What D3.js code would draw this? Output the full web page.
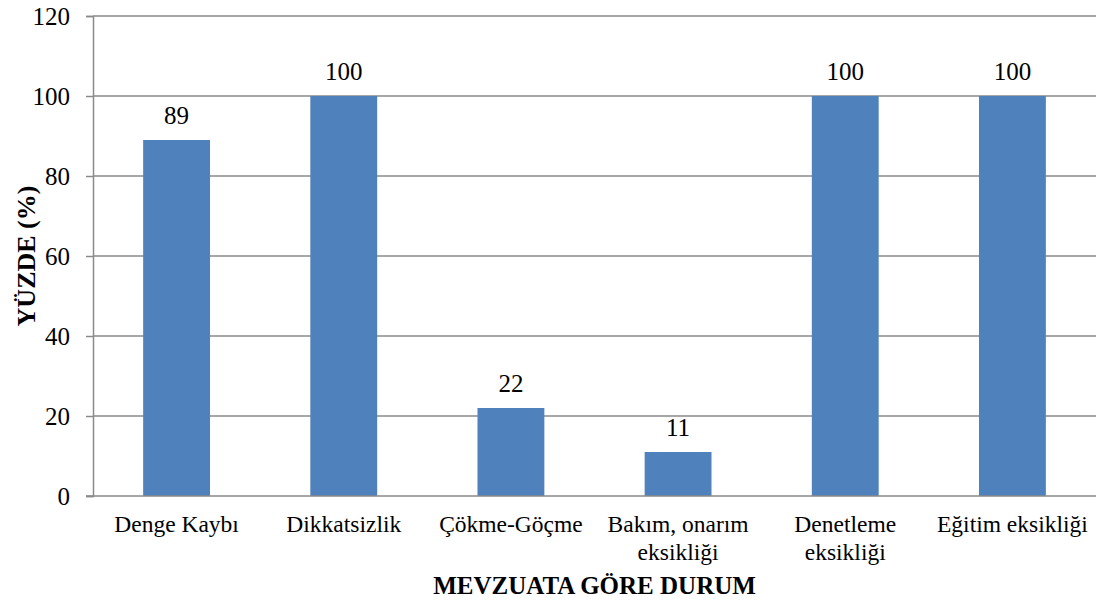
<!DOCTYPE html>
<html>
<head>
<meta charset="utf-8">
<script src="https://cdn.jsdelivr.net/npm/d3@7"></script>
</head>
<body style="margin:0">
<svg id="kaza-grafik" width="1100" height="603"></svg>
<script>
// Categories (line breaks marked with \n) and percentage values
const categories = ["Denge Kaybı", "Dikkatsizlik", "Çökme-Göçme", "Bakım, onarım\neksikliği", "Denetleme\neksikliği", "Eğitim eksikliği"];
const values = [89, 100, 22, 11, 100, 100];
const yTicks = [0, 20, 40, 60, 80, 100, 120];
const xTitle = "MEVZUATA GÖRE DURUM";
const yTitle = "YÜZDE (%)";

const FONT = "Liberation Serif";
const svg = d3.select("#kaza-grafik");
const plotLeft = 93, plotRight = 1096, plotTop = 16, plotBottom = 496;

const x = d3.scaleBand()
  .domain(categories)
  .range([plotLeft, plotRight])
  .paddingInner(0.6)
  .paddingOuter(0.3);

const y = d3.scaleLinear().domain([0, 120]).range([plotBottom, plotTop]);

// Horizontal gridlines
svg.append("g")
  .selectAll("line")
  .data(yTicks.filter(t => t > 0))
  .join("line")
  .attr("x1", plotLeft).attr("x2", plotRight)
  .attr("y1", d => y(d)).attr("y2", d => y(d))
  .attr("stroke", "#8a8a8a").attr("stroke-width", 1.5);

// Bars
svg.append("g")
  .selectAll("rect")
  .data(values)
  .join("rect")
  .attr("x", (d, i) => x(categories[i]))
  .attr("y", d => y(d))
  .attr("width", x.bandwidth())
  .attr("height", d => y(0) - y(d))
  .attr("fill", "#4f81bd");

// Y axis
const yAxis = svg.append("g")
  .attr("transform", `translate(${plotLeft},0)`)
  .call(d3.axisLeft(y).tickValues(yTicks).tickSize(7).tickPadding(16).tickFormat(d3.format("d")));
yAxis.attr("font-family", FONT).attr("font-size", 25);
yAxis.select(".domain").attr("stroke", "#8a8a8a").attr("stroke-width", 1.5);
yAxis.selectAll(".tick line").attr("stroke", "#8a8a8a").attr("stroke-width", 1.5);
yAxis.selectAll(".tick text")
  .attr("font-family", FONT)
  .attr("font-size", 25)
  .attr("fill", "#000").attr("dy", "0.34em");

// X axis baseline
svg.append("line")
  .attr("x1", plotLeft - 7).attr("x2", plotRight)
  .attr("y1", y(0)).attr("y2", y(0))
  .attr("stroke", "#8a8a8a").attr("stroke-width", 1.5);

// Category labels
const catLabels = svg.append("g")
  .selectAll("text")
  .data(categories)
  .join("text")
  .attr("x", d => x(d) + x.bandwidth() / 2)
  .attr("y", 532)
  .attr("text-anchor", "middle")
  .attr("font-family", FONT)
  .attr("font-size", 23.5);
catLabels.each(function(d) {
  const lines = d.split("\n");
  d3.select(this).selectAll("tspan")
    .data(lines)
    .join("tspan")
    .attr("x", x(d) + x.bandwidth() / 2)
    .attr("dy", (l, i) => i === 0 ? 0 : 28)
    .text(l => l);
});

// Value labels above bars
svg.append("g")
  .selectAll("text")
  .data(values)
  .join("text")
  .attr("x", (d, i) => x(categories[i]) + x.bandwidth() / 2)
  .attr("y", d => y(d) - 16)
  .attr("text-anchor", "middle")
  .attr("font-family", FONT)
  .attr("font-size", 25)
  .text(d => d);

// Axis titles
svg.append("text")
  .attr("x", (plotLeft + plotRight) / 2)
  .attr("y", 594)
  .attr("text-anchor", "middle")
  .attr("font-family", FONT)
  .attr("font-size", 25).attr("font-weight", "bold")
  .text(xTitle);

svg.append("text")
  .attr("transform", `translate(35,${(plotTop + plotBottom) / 2}) rotate(-90)`)
  .attr("text-anchor", "middle")
  .attr("font-family", FONT)
  .attr("font-size", 26).attr("font-weight", "bold")
  .text(yTitle);
</script>
</body>
</html>
